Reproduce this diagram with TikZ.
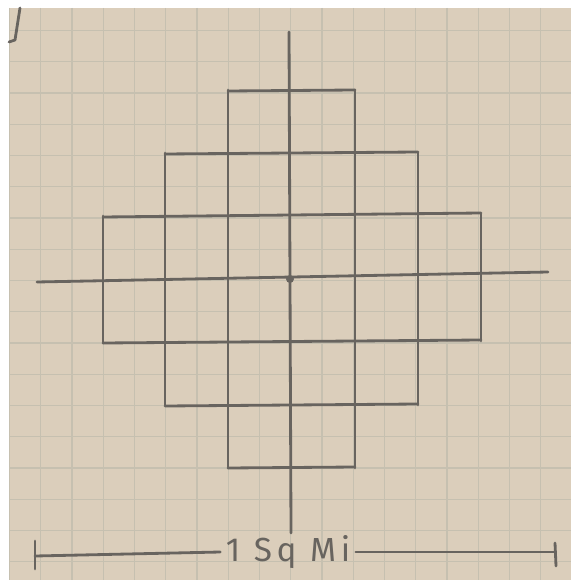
\documentclass[tikz,border=0pt]{standalone}
\usepackage{fontspec}
\setsansfont{Fira Sans}[LetterSpace=14]
\definecolor{paper}{RGB}{219,206,187}
\definecolor{gridline}{RGB}{198,192,176}
\definecolor{pencil}{RGB}{104,100,95}
\tikzset{
  paperline/.style={gridline,line width=0.7pt},
  pencilline/.style={pencil,line width=1.6pt,line cap=round,line join=round},
  scalelabel/.style={pencil,inner sep=3pt,font=\sffamily\fontsize{19}{19}\selectfont}
}

\begin{document}
\begin{tikzpicture}[x=0.02cm,y=-0.02cm]
\useasboundingbox (0,0) rectangle (571,580);
\fill[white] (0,0) rectangle (571,580);
\fill[paper] (9,8) rectangle (571,580);
% grid paper
\foreach \gx in {0,...,17}
  \draw[paperline] (9.5+31.25*\gx,8) -- (9.5+31.25*\gx,580);
\foreach \gy in {0,...,17}
  \draw[paperline] (9,30.5+31.25*\gy) -- (571,30.5+31.25*\gy);
\draw[pencilline] (20,8) -- (15,40) -- (9,42);

% axes
\draw[pencilline] (289,32) -- (291,533);
\draw[pencilline] (37,282) -- (548,272);
\fill[pencil] (290,279) circle (4);

% squares
\draw[pencilline] (228,90) -- (228,468);
\draw[pencilline] (355,90) -- (355,468);
\draw[pencilline] (165,153) -- (165,405);
\draw[pencilline] (418,153) -- (418,405);
\draw[pencilline] (103,216) -- (103,343);
\draw[pencilline] (481,214) -- (481,341);
\draw[pencilline] (228,91) -- (355,90);
\draw[pencilline] (165,154) -- (418,152);
\draw[pencilline] (103,217) -- (481,213);
\draw[pencilline] (103,343) -- (481,340);
\draw[pencilline] (165,406) -- (418,404);
\draw[pencilline] (228,468) -- (355,467);

% scale bar
\node[scalelabel] (scale) at (288,552) {1 Sq Mi};
\draw[pencilline] (35,541) -- (35,569);
\draw[pencilline] (35,556) -- (scale.west);
\draw[pencilline] (scale.east) -- (555,552);
\draw[pencilline] (555,543) -- (556,566);
\end{tikzpicture}
\end{document}
